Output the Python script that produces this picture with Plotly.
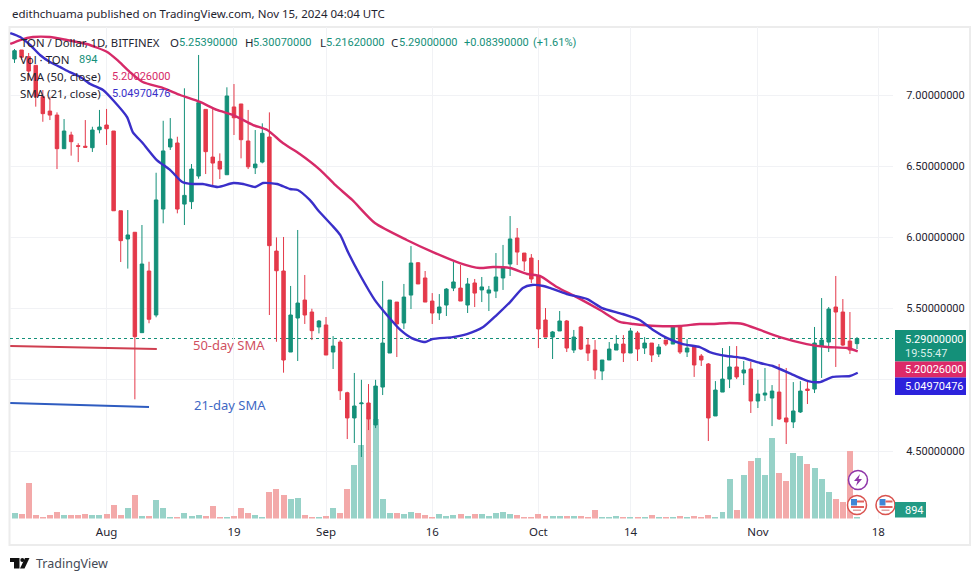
import pandas as pd
import plotly.graph_objects as go

W, H = 980, 581
start = pd.Timestamp("2024-07-19")

opens = [7.253,7.316,7.269,7.208,6.988,6.887,6.859,6.623,6.719,6.644,6.640,6.630,6.756,6.789,6.747,6.187,5.989,6.036,5.331,5.764,
5.455,6.199,6.635,6.663,6.234,6.251,6.431,6.899,6.564,6.534,6.440,6.916,6.937,6.677,6.489,6.529,6.705,5.904,5.764,5.195,
5.434,5.560,5.476,5.371,5.385,5.195,5.265,4.909,4.732,4.832,4.837,4.683,4.949,5.188,5.546,5.399,5.595,5.822,5.715,5.553,
5.469,5.525,5.644,5.644,5.525,5.680,5.631,5.609,5.623,5.715,5.813,5.996,5.890,5.855,5.729,5.420,5.300,5.343,5.413,5.209,
5.371,5.244,5.209,5.062,5.139,5.209,5.251,5.188,5.329,5.223,5.258,5.181,5.279,5.251,5.378,5.195,5.237,5.167,5.111,4.746,
4.914,5.005,5.090,5.048,5.076,4.851,4.893,4.872,4.914,4.732,4.704,4.774,4.935,4.935,5.237,5.265,5.511,5.476,5.272,5.2539]
highs = [7.323,7.316,7.295,7.211,7.035,6.988,6.878,6.831,6.742,6.661,6.824,6.777,6.895,6.902,6.747,6.187,6.192,6.038,6.087,5.829,
6.454,6.819,6.838,6.707,7.047,6.515,7.281,6.899,6.904,6.590,7.054,7.077,6.937,6.895,6.754,6.801,6.878,6.000,6.003,5.659,
6.052,5.736,5.499,5.420,5.441,5.307,5.279,4.916,5.048,5.000,4.970,5.000,5.694,5.560,5.546,5.673,5.939,5.827,5.764,5.609,
5.602,5.644,5.827,5.806,5.715,5.708,5.722,5.659,5.890,5.947,6.150,6.066,5.890,5.883,5.841,5.504,5.343,5.483,5.420,5.350,
5.378,5.293,5.279,5.139,5.265,5.314,5.314,5.364,5.343,5.300,5.258,5.251,5.279,5.378,5.378,5.286,5.237,5.181,5.118,4.991,
5.223,5.237,5.237,5.132,5.125,5.000,5.083,4.963,5.111,5.083,4.984,4.991,4.991,5.371,5.574,5.511,5.729,5.567,5.476,5.3007]
lows = [7.225,7.246,7.105,6.918,6.812,6.824,6.480,6.623,6.574,6.529,6.633,6.600,6.731,6.649,6.187,5.827,5.781,4.863,5.331,5.397,
5.439,6.099,6.614,6.169,6.087,6.199,6.412,6.445,6.368,6.410,6.440,6.719,6.555,6.480,6.445,6.520,5.455,5.267,5.050,5.195,
5.132,5.392,5.279,5.326,5.174,5.076,4.858,4.584,4.556,4.458,4.647,4.661,4.893,5.188,5.160,5.357,5.497,5.673,5.546,5.392,
5.420,5.448,5.623,5.553,5.469,5.511,5.546,5.483,5.574,5.631,5.729,5.806,5.764,5.680,5.223,5.300,5.146,5.343,5.195,5.188,
5.209,5.132,5.005,4.998,5.139,5.209,5.125,5.188,5.132,5.181,5.125,5.160,5.237,5.251,5.181,5.160,5.020,5.097,4.570,4.746,
4.914,4.942,5.005,4.963,4.767,4.802,4.851,4.675,4.718,4.549,4.661,4.767,4.830,4.907,5.013,5.195,5.090,5.237,5.181,5.2162]
closes = [7.311,7.265,7.168,6.988,6.869,6.859,6.623,6.747,6.672,6.640,6.633,6.754,6.775,6.763,6.187,5.977,6.017,5.303,5.813,5.425,
6.263,6.607,6.691,6.199,6.295,6.480,6.946,6.602,6.522,6.480,6.993,6.840,6.686,6.496,6.515,6.731,5.942,5.766,5.139,5.455,
5.539,5.455,5.345,5.413,5.174,5.237,4.923,4.732,4.816,4.837,4.725,4.956,5.258,5.560,5.392,5.581,5.820,5.673,5.546,5.469,
5.511,5.637,5.687,5.553,5.673,5.609,5.652,5.631,5.722,5.785,5.989,5.897,5.834,5.708,5.357,5.300,5.336,5.413,5.223,5.300,
5.216,5.188,5.069,5.139,5.216,5.251,5.188,5.343,5.216,5.258,5.174,5.230,5.251,5.378,5.195,5.223,5.104,5.139,4.732,4.928,
5.005,5.090,5.020,5.069,4.851,4.900,4.907,4.921,4.725,4.704,4.781,4.921,4.925,5.258,5.279,5.497,5.476,5.244,5.209,5.29]
volumes = [3400,3000,21600,2400,600,2400,4200,2400,2400,2400,3000,2400,2400,3000,8400,2400,6600,14400,1800,1800,11400,6600,1200,1200,3600,1800,2400,1800,7800,1200,600,1800,6600,3600,2400,1200,16200,18000,14400,12000,12600,
2400,1200,1200,1800,6600,3600,18000,32400,44400,60000,60000,12000,3600,3600,3000,4200,3600,2400,1200,3000,1800,2400,3000,1800,3000,3000,1800,3600,4200,3000,2400,1200,1200,3000,1800,1800,1800,
1800,1800,1800,1200,5400,1200,1200,1800,1200,1200,1200,1200,2400,1200,1200,1200,1800,1200,1800,600,2400,1200,4200,24000,5400,26400,34800,36600,26400,48600,27600,
22800,39600,37800,33000,30600,24000,16200,12000,10200,40800,894]

sma21_days = [-0.6,0.8,2.2,3.6,5.0,6.4,7.8,9.3,10.7,12.5,13.9,15.9,16.7,18.1,20.1,22.0,23.7,25.1,26.6,28.7,30.9,32.3,34.0,35.1,37.1,38.9,40.0,41.7,43.1,44.8,46.0,47.1,48.8,50.9,52.6,54.5,56.1,58.0,59.0,61.9,63.9,66.2,68.1,70.0,71.8,73.1,74.7,75.6,78.0,80.9,83.0,85.9,88.3,90.2,92.2,94.4,96.8,98.2,100.6,102.9,105.3,107.1,110.0,112.1,113.8,115.6,118.0,119.1]
sma21_vals = [7.435,7.407,7.351,7.281,7.232,7.197,7.161,7.126,7.077,7.035,6.965,6.845,6.740,6.663,6.543,6.473,6.389,6.375,6.375,6.354,6.382,6.375,6.354,6.382,6.375,6.340,6.333,6.263,6.178,6.087,6.017,5.897,5.736,5.560,5.455,5.350,5.293,5.265,5.286,5.300,5.321,5.371,5.455,5.546,5.645,5.666,5.659,5.645,5.602,5.567,5.504,5.462,5.420,5.350,5.293,5.251,5.230,5.195,5.167,5.153,5.118,5.097,5.034,4.991,4.984,5.020,5.027,5.0497]
sma50_days = [-0.6,0.8,2.6,5.0,7.4,10.2,13.1,14.5,16.3,18.1,21.0,23.4,26.2,28.6,30.9,33.7,35.7,37.9,40.3,43.2,45.3,47.7,50.9,55.4,59.1,62.9,65.7,67.6,70.0,72.4,74.2,76.6,79.4,82.7,85.5,87.4,90.7,94.0,96.8,98.7,101.0,102.9,105.3,108.1,111.9,114.8,117.6,119.1]
sma50_vals = [7.358,7.386,7.407,7.407,7.386,7.358,7.302,7.246,7.161,7.091,7.049,7.000,6.951,6.895,6.859,6.789,6.754,6.663,6.586,6.473,6.368,6.263,6.101,5.982,5.897,5.820,5.785,5.792,5.785,5.743,5.729,5.652,5.581,5.490,5.406,5.392,5.378,5.378,5.392,5.392,5.399,5.392,5.350,5.300,5.251,5.230,5.223,5.2003]
note50_days, note50_vals = [-0.6, 20.1], [5.237, 5.216]
note21_days, note21_vals = [-0.6, 19.0], [4.837, 4.809]

price_ticks = [4.5, 5.0, 5.5, 6.0, 6.5, 7.0]
price_labels = ["4.50000000", "", "5.50000000", "6.00000000", "6.50000000", "7.00000000"]
date_ticks = ["2024-08-01", "2024-08-19", "2024-09-01", "2024-09-16", "2024-10-01", "2024-10-14", "2024-11-01", "2024-11-18"]
date_labels = ["Aug", "19", "Sep", "16", "Oct", "14", "Nov", "18"]

GREEN, RED = "#149079", "#e4394a"
LGREEN, LRED = "#97d2c8", "#f3a9a9"
CRIMSON, BLUE = "#d62a68", "#3a2fc9"
INK = "#1f2430"
FONT = "Noto Sans"
NUM = "Roboto"

X = lambda p: p / W
Y = lambda p: 1 - p / H
dates = [start + pd.Timedelta(days=i) for i in range(len(opens))]
at = lambda days: [start + pd.Timedelta(days=d) for d in days]

fig = go.Figure()
fig.add_bar(x=dates, y=volumes, yaxis="y", width=73000000, marker_line_width=0,
            marker_color=[LGREEN if c >= o else LRED for o, c in zip(opens, closes)])
fig.add_candlestick(x=dates, open=opens, high=highs, low=lows, close=closes, yaxis="y2",
                    increasing=dict(line=dict(color=GREEN, width=1), fillcolor=GREEN),
                    decreasing=dict(line=dict(color=RED, width=1), fillcolor=RED))
fig.add_scatter(x=at(sma50_days), y=sma50_vals, yaxis="y2", mode="lines",
                line=dict(color=CRIMSON, width=2.4, shape="spline", smoothing=0.6))
fig.add_scatter(x=at(sma21_days), y=sma21_vals, yaxis="y2", mode="lines",
                line=dict(color=BLUE, width=2.4, shape="spline", smoothing=0.6))
fig.add_scatter(x=at(note50_days), y=note50_vals, yaxis="y2", mode="lines", line=dict(color="#cf3f50", width=2))
fig.add_scatter(x=at(note21_days), y=note21_vals, yaxis="y2", mode="lines", line=dict(color="#2f5cc0", width=2))


def text(px, py, s, color=INK, size=11.5, anchor="left", family=FONT):
    return dict(x=X(px), y=Y(py), xref="paper", yref="paper", text=s, showarrow=False, xanchor=anchor,
                yanchor="middle", font=dict(family=family, size=size, color=color), align=anchor)


def num(px, py, s, color=GREEN):
    return text(px, py, s, color, 11, family=NUM)


def rect(x0, y0, x1, y1, fill, line=None, layer="above"):
    return dict(type="rect", xref="paper", yref="paper", x0=X(x0), x1=X(x1), y0=Y(y0), y1=Y(y1), fillcolor=fill,
                line=dict(width=0 if line is None else 2, color=line or fill), layer=layer)


def circle(cx, cy, r, fill, line, w=2):
    return dict(type="circle", xref="paper", yref="paper", x0=X(cx - r), x1=X(cx + r), y0=Y(cy - r), y1=Y(cy + r),
                fillcolor=fill, line=dict(color=line, width=w))


def poly(points, fill):
    d = "M" + " L".join(f"{X(a):.5f},{Y(b):.5f}" for a, b in points) + " Z"
    return dict(type="path", xref="paper", yref="paper", path=d, fillcolor=fill, line=dict(width=0))


def flag(cx, cy):
    return [circle(cx, cy, 9.5, "#ffffff", "#d9534f", 1.5),
            rect(cx - 6, cy - 6, cx, cy + 0.5, "#3f86d6"),
            rect(cx, cy - 4.5, cx + 7, cy - 2.5, "#e0605c"),
            rect(cx - 6, cy + 1, cx + 7, cy + 3, "#e0605c"),
            rect(cx - 4, cy + 4.5, cx + 4, cy + 6, "#e0a0a0")]


shapes = [
    rect(9.5, 27, 970, 545, "rgba(0,0,0,0)", "#ececec", "below"),
    dict(type="line", xref="paper", yref="y2", x0=X(10), x1=X(893), y0=closes[-1], y1=closes[-1], layer="below",
         line=dict(color=GREEN, width=1, dash="dot")),
    circle(858, 480, 9.5, "#ffffff", "#8e35a8", 1.5),
    poly([(860, 474), (854, 481), (857.5, 481), (856, 486), (862, 479), (858.5, 479)], "#8e35a8"),
    *flag(857, 505),
    *flag(885.5, 505),
    rect(895, 330, 966, 361.5, "#149079"),
    rect(895, 361.5, 966, 377.5, "#dc2a68"),
    rect(895, 377.5, 966, 395, "#2c22dc"),
    rect(895, 502, 926, 517.5, "#239a85"),
    rect(10, 558, 19.5, 562, "#111111"),
    rect(14, 562, 19.5, 568.5, "#111111"),
    circle(22.3, 560, 2, "#111111", "#111111", 0),
    poly([(25, 558), (29.5, 558), (24.5, 568.5), (20, 568.5)], "#111111"),
]

annotations = [
    text(10, 14, "edithchuama published on TradingView.com, Nov 15, 2024 04:04 UTC"),
    text(19, 42, "TON / Dollar, 1D, BITFINEX", size=11.3),
    text(168, 42, "O"),
    num(177, 42, "5.25390000"),
    text(243, 42, "H"),
    num(251, 42, "5.30070000"),
    text(318, 42, "L"),
    num(324, 42, "5.21620000"),
    text(389, 42, "C"),
    num(397, 42, "5.29000000"),
    num(462, 42, "+0.08390000"),
    num(531, 42, "(+1.61%)"),
    text(18, 59, "Vol · TON"),
    num(77, 59, "894"),
    text(18, 76, "SMA (50, close)"),
    num(110, 76, "5.20026000", CRIMSON),
    text(18, 93, "SMA (21, close)"),
    num(110, 93, "5.04970476", BLUE),
    text(191, 345, "50-day SMA", "#d0505f", 13),
    text(192, 405, "21-day SMA", "#3f68c4", 13),
    num(903, 339, "5.29000000", "#ffffff"),
    num(903, 353, "19:55:47", "#d8efe9"),
    num(903, 369.5, "5.20026000", "#ffffff"),
    num(903, 386, "5.04970476", "#ffffff"),
    num(903, 510, "894", "#ffffff"),
    text(34, 563, "TradingView", "#444a55", 12.5),
]

fig.update_layout(
    width=W, height=H, autosize=False, margin=dict(l=0, r=0, t=0, b=0),
    paper_bgcolor="white", plot_bgcolor="white", showlegend=False, bargap=0,
    shapes=shapes, annotations=annotations,
    xaxis=dict(type="date", domain=[X(10), X(893)], range=["2024-07-18 08:43", "2024-11-20 02:00"],
               rangeslider=dict(visible=False), tickmode="array", tickvals=date_ticks, ticktext=date_labels,
               tickfont=dict(family=FONT, size=11.5, color=INK), ticks="outside", ticklen=3, tickcolor="rgba(0,0,0,0)",
               showgrid=True, gridcolor="#f1f2f5", gridwidth=1, zeroline=False, showline=False, anchor="y"),
    yaxis=dict(domain=[Y(518.5), Y(27)], range=[0, 294900], visible=False, fixedrange=True),
    yaxis2=dict(domain=[Y(518.5), Y(27)], range=[4.026, 7.4775], overlaying="y", side="right", anchor="x",
                tickmode="array", tickvals=price_ticks, ticktext=price_labels,
                tickfont=dict(family=NUM, size=11, color=INK),
                ticks="outside", ticklen=10, tickcolor="rgba(0,0,0,0)",
                showgrid=True, gridcolor="#f1f2f5", gridwidth=1, zeroline=False, showline=False),
)

fig.write_html("out.html", config={"displayModeBar": False},
               post_script="document.body.style.margin='0';document.body.style.overflow='hidden';")
